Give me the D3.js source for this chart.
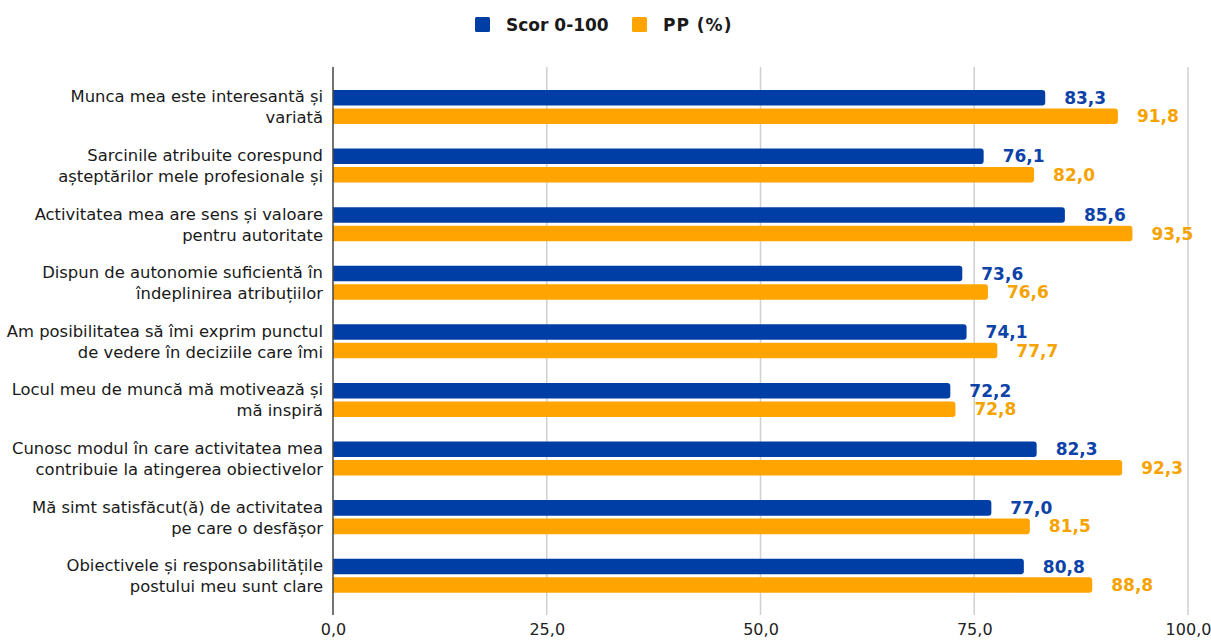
<!DOCTYPE html>
<html>
<head>
<meta charset="utf-8">
<script src="https://cdn.jsdelivr.net/npm/d3@7/dist/d3.min.js"></script>
<style>
  html, body { margin: 0; padding: 0; background: #fff; }
  svg { display: block; font-family: "DejaVu Sans", Verdana, sans-serif; }
</style>
</head>
<body>
<svg id="chart" width="1211" height="641"></svg>
<script>
// Survey statements (two-line labels)
const categories = [
  ["Munca mea este interesantă și", "variată"],
  ["Sarcinile atribuite corespund", "așteptărilor mele profesionale și"],
  ["Activitatea mea are sens și valoare", "pentru autoritate"],
  ["Dispun de autonomie suficientă în", "îndeplinirea atribuțiilor"],
  ["Am posibilitatea să îmi exprim punctul", "de vedere în deciziile care îmi"],
  ["Locul meu de muncă mă motivează și", "mă inspiră"],
  ["Cunosc modul în care activitatea mea", "contribuie la atingerea obiectivelor"],
  ["Mă simt satisfăcut(ă) de activitatea", "pe care o desfășor"],
  ["Obiectivele și responsabilitățile", "postului meu sunt clare"]
];
const seriesNames = ["Scor 0-100", "PP (%)"];
const scor = [83.3, 76.1, 85.6, 73.6, 74.1, 72.2, 82.3, 77.0, 80.8];
const pp   = [91.8, 82.0, 93.5, 76.6, 77.7, 72.8, 92.3, 81.5, 88.8];
const xTicks = [0, 25, 50, 75, 100];

const colors = { "Scor 0-100": "#003ea6", "PP (%)": "#ffa400" };
const fmt = v => d3.format(".1f")(v).replace(".", ",");

const svg = d3.select("#chart");
const plot = { left: 333, right: 1188, top: 67, bottom: 615 };

const x = d3.scaleLinear().domain([0, 100]).range([plot.left, plot.right]);
const y = d3.scaleBand().domain(d3.range(categories.length)).range([77.7, 605]).paddingInner(0);
const ySub = d3.scaleBand().domain(seriesNames).range([0, y.bandwidth()])
  .paddingInner(0.16).paddingOuter(0.664);

// Gridlines
svg.append("g").selectAll("line").data(xTicks.filter(t => t > 0)).join("line")
  .attr("x1", d => x(d)).attr("x2", d => x(d))
  .attr("y1", plot.top).attr("y2", plot.bottom)
  .attr("stroke", "#d0d0d0").attr("stroke-width", 1.5);

// X axis tick labels
const xAxis = d3.axisBottom(x).tickValues(xTicks).tickFormat(fmt).tickSize(0).tickPadding(0);
const gx = svg.append("g").attr("transform", `translate(0, ${plot.bottom + 9})`).call(xAxis);
gx.select(".domain").remove();
gx.selectAll("text").attr("font-size", 16).attr("fill", "#222")
  .attr("font-family", "\"DejaVu Sans\", Verdana, sans-serif");

// Rows
const rows = categories.map((c, i) => ({ i, label: c, values: [
  { key: "Scor 0-100", v: scor[i] }, { key: "PP (%)", v: pp[i] }
]}));

const g = svg.append("g").selectAll("g").data(rows).join("g")
  .attr("transform", d => `translate(0, ${y(d.i)})`);

// Bars with rounded right end
function barPath(x0, x1, y0, h, r) {
  r = Math.min(r, (x1 - x0) / 2, h / 2);
  return `M${x0},${y0}H${x1 - r}Q${x1},${y0} ${x1},${y0 + r}V${y0 + h - r}Q${x1},${y0 + h} ${x1 - r},${y0 + h}H${x0}Z`;
}
g.selectAll("path.bar").data(d => d.values).join("path")
  .attr("class", "bar")
  .attr("d", d => barPath(x(0), x(d.v), ySub(d.key), ySub.bandwidth(), 3))
  .attr("fill", d => colors[d.key]);

// Value labels
g.selectAll("text.val").data(d => d.values).join("text")
  .attr("class", "val")
  .attr("x", d => x(d.v) + 19)
  .attr("y", d => ySub(d.key) + ySub.bandwidth() / 2)
  .attr("dy", "0.36em")
  .attr("font-size", 17).attr("font-weight", "bold")
  .attr("fill", d => d.key === "PP (%)" ? "#f5a300" : "#0d42a8")
  .text(d => fmt(d.v));

// Category labels
const cy = y.bandwidth() / 2;
g.selectAll("text.cat").data(d => d.label.map((t, k) => ({ t, k }))).join("text")
  .attr("class", "cat")
  .attr("x", plot.left - 10)
  .attr("y", d => cy + (d.k === 0 ? -10.5 : 10.5))
  .attr("dy", "0.36em")
  .attr("text-anchor", "end")
  .attr("font-size", 16.4).attr("fill", "#1a1a1a")
  .text(d => d.t);

// Left axis line
svg.append("line")
  .attr("x1", x(0)).attr("x2", x(0))
  .attr("y1", plot.top).attr("y2", plot.bottom)
  .attr("stroke", "#444").attr("stroke-width", 1.5);

// Legend
const legend = svg.append("g");
const legendItems = [
  { key: "Scor 0-100", x: 475 },
  { key: "PP (%)", x: 632 }
];
legend.selectAll("rect").data(legendItems).join("rect")
  .attr("x", d => d.x).attr("y", 17).attr("width", 15).attr("height", 15).attr("rx", 1.5)
  .attr("fill", d => colors[d.key]);
legend.selectAll("text").data(legendItems).join("text")
  .attr("x", d => d.x + 31).attr("y", 25).attr("dy", "0.36em")
  .attr("font-size", 17).attr("font-weight", "bold").attr("fill", "#1a1a1a")
  .attr("letter-spacing", d => d.key === "PP (%)" ? 1 : 0)
  .text(d => d.key);
</script>
</body>
</html>
